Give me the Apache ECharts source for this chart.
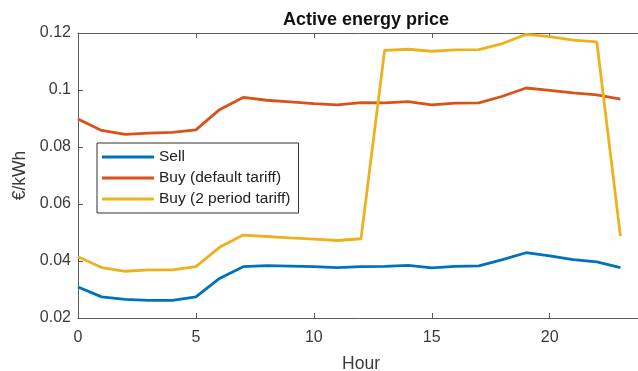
<!DOCTYPE html>
<html>
<head>
<meta charset="utf-8">
<script src="https://cdn.jsdelivr.net/npm/echarts@6/dist/echarts.min.js"></script>
<style>
  html, body { margin: 0; padding: 0; background: #fff; }
  #chart { width: 638px; height: 371px; }
</style>
</head>
<body>
<div id="chart"></div>
<script>
// Hourly prices (€/kWh) over one day
const hours = [0,1,2,3,4,5,6,7,8,9,10,11,12,13,14,15,16,17,18,19,20,21,22,23];
const sell = [0.0309,0.0274,0.0265,0.0262,0.0262,0.0274,0.0339,0.0380,0.0384,0.0382,0.0380,0.0377,0.0380,0.0381,0.0385,0.0376,0.0381,0.0383,0.0405,0.0429,0.0418,0.0405,0.0397,0.0377];
const buyDefault = [0.0898,0.0858,0.0844,0.0849,0.0851,0.0860,0.0931,0.0974,0.0964,0.0958,0.0952,0.0948,0.0956,0.0955,0.0959,0.0948,0.0954,0.0955,0.0978,0.1007,0.0999,0.0990,0.0983,0.0968];
const buyTwoPeriod = [0.0415,0.0377,0.0364,0.0369,0.0369,0.0380,0.0448,0.0491,0.0486,0.0481,0.0477,0.0472,0.0478,0.1139,0.1143,0.1136,0.1141,0.1142,0.1163,0.1195,0.1187,0.1175,0.1169,0.0487];
const hourTicks = [0, 5, 10, 15, 20];
const seriesNames = ['Sell', 'Buy (default tariff)', 'Buy (2 period tariff)'];
const seriesColors = ['#0072BD', '#D95319', '#EDB120'];

const axisColor = '#5a5a5a';
const textColor = '#3a3a3a';
const fontFamily = '"Liberation Sans", Arial, Helvetica, sans-serif';

function pairs(values) {
  return hours.map((h, i) => [h, values[i]]);
}

const chart = echarts.init(document.getElementById('chart'), null, { renderer: 'canvas' });

chart.setOption({
  animation: false,
  backgroundColor: '#fff',
  textStyle: { fontFamily: fontFamily },
  title: {
    text: 'Active energy price',
    left: 361,
    textAlign: 'center',
    top: 6,
    textStyle: { fontSize: 18, fontWeight: 'bold', color: '#111', fontFamily: fontFamily }
  },
  grid: { left: 78, top: 33, right: -6, bottom: 53, containLabel: false, outerBoundsMode: 'none' },
  legend: {
    orient: 'vertical',
    left: 97,
    top: 143,
    icon: 'rect',
    itemWidth: 52,
    itemHeight: 3,
    itemGap: 5,
    padding: [6, 8, 6, 5],
    borderColor: '#333',
    borderWidth: 1,
    backgroundColor: '#fff',
    data: seriesNames,
    textStyle: { fontSize: 15.5, lineHeight: 16, color: '#222', fontFamily: fontFamily }
  },
  xAxis: [
    {
      type: 'value',
      min: 0,
      max: 24,
      interval: 5,
      position: 'bottom',
      name: 'Hour',
      nameLocation: 'middle',
      nameGap: 37,
      nameTextStyle: { fontSize: 17.5, color: textColor, fontFamily: fontFamily },
      axisLine: { show: true, lineStyle: { color: axisColor, width: 1 } },
      axisTick: { show: true, inside: true, length: 5, customValues: hourTicks, lineStyle: { color: axisColor } },
      axisLabel: {
        fontSize: 16, color: textColor, margin: 12, fontFamily: fontFamily,
        customValues: hourTicks,
        formatter: v => String(v)
      },
      splitLine: { show: false }
    },
    {
      type: 'value',
      min: 0,
      max: 24,
      interval: 5,
      position: 'top',
      axisLine: { show: true, lineStyle: { color: axisColor, width: 1 } },
      axisTick: { show: true, inside: true, length: 5, customValues: hourTicks, lineStyle: { color: axisColor } },
      axisLabel: { show: false },
      splitLine: { show: false }
    }
  ],
  yAxis: {
    type: 'value',
    min: 0.02,
    max: 0.12,
    interval: 0.02,
    name: '€/kWh',
    nameLocation: 'middle',
    nameGap: 46,
    nameTextStyle: { fontSize: 17.5, color: textColor, fontFamily: fontFamily },
    axisLine: { show: true, lineStyle: { color: axisColor, width: 1 } },
    axisTick: { show: true, inside: true, length: 5, lineStyle: { color: axisColor } },
    axisLabel: {
      fontSize: 16, color: textColor, margin: 7, fontFamily: fontFamily,
      formatter: v => String(parseFloat(v.toFixed(4)))
    },
    splitLine: { show: false }
  },
  series: [
    { name: seriesNames[0], data: pairs(sell), color: seriesColors[0] },
    { name: seriesNames[1], data: pairs(buyDefault), color: seriesColors[1] },
    { name: seriesNames[2], data: pairs(buyTwoPeriod), color: seriesColors[2] }
  ].map(s => ({
    type: 'line',
    name: s.name,
    data: s.data,
    xAxisIndex: 0,
    showSymbol: false,
    symbol: 'none',
    itemStyle: { color: s.color },
    lineStyle: { color: s.color, width: 2.8 },
    z: 2
  }))
});
</script>
</body>
</html>
